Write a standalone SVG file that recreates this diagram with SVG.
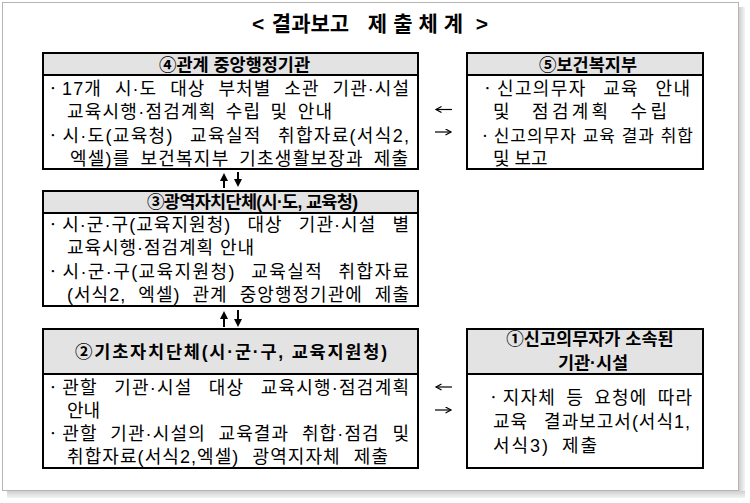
<svg xmlns="http://www.w3.org/2000/svg" width="750" height="503" viewBox="0 0 750 503">
<defs>
<style>
.t{font-family:"Liberation Sans","Noto Sans CJK KR",sans-serif;font-size:18px;fill:#000}
.hb{font-size:17.5px;font-weight:700}
.h{font-size:17.5px;font-weight:700;text-anchor:middle}
.hdr{fill:#e3e3e3;stroke:none}
.box{fill:none;stroke:#000;stroke-width:2}
.sep{stroke:#000;stroke-width:2}
.va{stroke:#000;stroke-width:2;fill:none;marker-end:url(#fh)}
.ha{stroke:#000;stroke-width:1.2;fill:none;marker-end:url(#oh)}
</style>
<marker id="fh" markerUnits="userSpaceOnUse" markerWidth="8" markerHeight="8" refX="6" refY="4" orient="auto">
<path d="M0,0 L8,4 L0,8 z" fill="#000"/>
</marker>
<marker id="oh" markerUnits="userSpaceOnUse" markerWidth="8" markerHeight="8" refX="6" refY="3.5" orient="auto">
<path d="M0.5,0.5 L6,3.5 L0.5,6.5" fill="none" stroke="#000" stroke-width="1.2"/>
</marker>
<linearGradient id="shR" x1="0" y1="0" x2="1" y2="0">
<stop offset="0" stop-color="#cfcfcf"/><stop offset="1" stop-color="#f4f4f4"/>
</linearGradient>
<linearGradient id="shB" x1="0" y1="0" x2="0" y2="1">
<stop offset="0" stop-color="#cfcfcf"/><stop offset="1" stop-color="#f4f4f4"/>
</linearGradient>
</defs>

<g id="frame">
<rect x="0" y="0" width="750" height="503" fill="#fff"/>
<rect x="739" y="7" width="6" height="490" fill="url(#shR)"/>
<rect x="7" y="491" width="738" height="7" fill="url(#shB)"/>
<rect x="2.5" y="2.5" width="736" height="488" fill="#fff" stroke="#b5b5b5" stroke-width="1"/>
</g>

<g id="title">
<text class="t" y="31" style="font-size:21px;font-weight:700"><tspan x="252">&lt;</tspan><tspan x="266"> 결과보고</tspan><tspan x="356" letter-spacing="6"> 제출체계</tspan><tspan x="470"> &gt;</tspan></text>
</g>

<g id="node4">
<rect class="hdr" x="43" y="53" width="375" height="22"/>
<rect class="box" x="43" y="53" width="375" height="116"/>
<line class="sep" x1="43" y1="75" x2="418" y2="75"/>
<text class="t h" x="234.5" y="70.5">④관계 중앙행정기관</text>
<text class="t" x="44.5" y="95" word-spacing="7" textLength="364.5" lengthAdjust="spacing">ㆍ17개 시·도 대상 부처별 소관 기관·시설</text>
<text class="t" x="67" y="118" word-spacing="3" textLength="265" lengthAdjust="spacing">교육시행·점검계획 수립 및 안내</text>
<text class="t" x="44.5" y="142" word-spacing="10" textLength="364.5" lengthAdjust="spacing">ㆍ시·도(교육청) 교육실적 취합자료(서식2,</text>
<text class="t" x="70" y="165" word-spacing="3.5" textLength="338" lengthAdjust="spacing">엑셀)를 보건복지부 기초생활보장과 제출</text>
</g>

<g id="node5">
<rect class="hdr" x="467" y="53" width="236" height="22"/>
<rect class="box" x="467" y="53" width="236" height="116"/>
<line class="sep" x1="467" y1="75" x2="703" y2="75"/>
<text class="t h" x="588" y="70.5">⑤보건복지부</text>
<text class="t" x="479" y="95" word-spacing="10" textLength="211" lengthAdjust="spacing">ㆍ신고의무자 교육 안내</text>
<text class="t" x="493" y="118" word-spacing="11" textLength="174" lengthAdjust="spacing">및 점검계획 수립</text>
<text class="t" x="477" y="142" style="font-size:17px" textLength="216" lengthAdjust="spacing">ㆍ신고의무자 교육 결과 취합</text>
<text class="t" x="493" y="165">및 보고</text>
</g>

<g id="node3">
<rect class="hdr" x="43" y="191" width="375" height="22"/>
<rect class="box" x="43" y="191" width="375" height="115"/>
<line class="sep" x1="43" y1="213" x2="418" y2="213"/>
<text class="t hb" x="147" y="207.5" textLength="211" lengthAdjust="spacing">③광역자치단체(시·도, 교육청)</text>
<text class="t" x="44.5" y="231" word-spacing="10" textLength="364.5" lengthAdjust="spacing">ㆍ시·군·구(교육지원청) 대상 기관·시설 별</text>
<text class="t" x="67" y="254" textLength="187" lengthAdjust="spacing">교육시행·점검계획 안내</text>
<text class="t" x="44.5" y="278" word-spacing="9" textLength="364.5" lengthAdjust="spacing">ㆍ시·군·구(교육지원청) 교육실적 취합자료</text>
<text class="t" x="67" y="301" word-spacing="6" textLength="342" lengthAdjust="spacing">(서식2, 엑셀) 관계 중앙행정기관에 제출</text>
</g>

<g id="node2">
<rect class="hdr" x="43" y="329" width="375" height="45"/>
<rect class="box" x="43" y="329" width="375" height="139"/>
<line class="sep" x1="43" y1="374" x2="418" y2="374"/>
<text class="t hb" x="75" y="358" textLength="312" lengthAdjust="spacing">②기초자치단체(시·군·구, 교육지원청)</text>
<text class="t" x="44.5" y="394" word-spacing="10" textLength="364.5" lengthAdjust="spacing">ㆍ관할 기관·시설 대상 교육시행·점검계획</text>
<text class="t" x="67" y="417">안내</text>
<text class="t" x="44.5" y="440" word-spacing="6.5" textLength="364.5" lengthAdjust="spacing">ㆍ관할 기관·시설의 교육결과 취합·점검 및</text>
<text class="t" x="67" y="463" word-spacing="7" textLength="321" lengthAdjust="spacing">취합자료(서식2,엑셀) 광역지자체 제출</text>
</g>

<g id="node1">
<rect class="hdr" x="467" y="329" width="236" height="45"/>
<rect class="box" x="467" y="329" width="236" height="139"/>
<line class="sep" x1="467" y1="374" x2="703" y2="374"/>
<text class="t h" x="590" y="345">①신고의무자가 소속된</text>
<text class="t h" x="593" y="369">기관·시설</text>
<text class="t" x="485" y="404" word-spacing="4" textLength="207" lengthAdjust="spacing">ㆍ지자체 등 요청에 따라</text>
<text class="t" x="493" y="428" word-spacing="10" textLength="197" lengthAdjust="spacing">교육 결과보고서(서식1,</text>
<text class="t" x="493" y="452" word-spacing="5" textLength="104" lengthAdjust="spacing">서식3) 제출</text>
</g>

<g id="connectors">
<path class="va" d="M224,188 L224,175"/>
<path class="va" d="M238,172 L238,185"/>
<path class="va" d="M224,327 L224,313"/>
<path class="va" d="M238,310 L238,325"/>
<path class="ha" d="M452,109.5 L436,109.5"/>
<path class="ha" d="M435,132 L451,132"/>
<path class="ha" d="M452,387 L436,387"/>
<path class="ha" d="M435,410 L451,410"/>
</g>
</svg>
